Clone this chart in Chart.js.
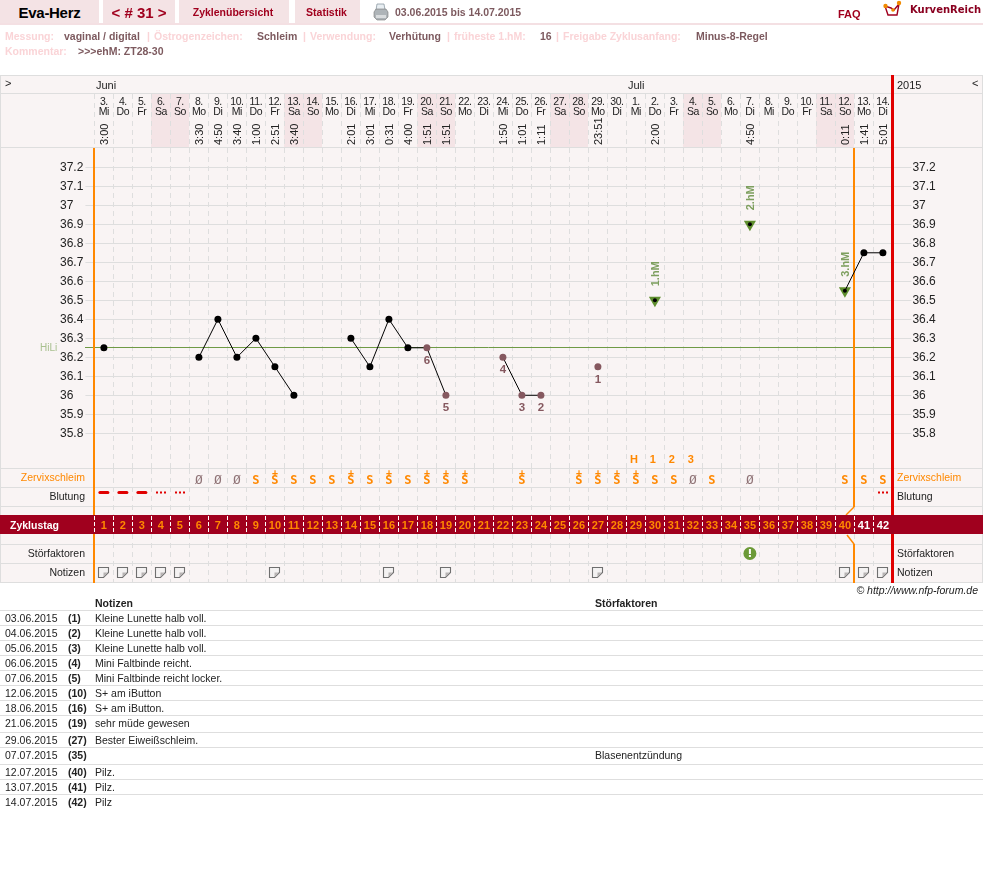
<!DOCTYPE html>
<html lang="de">
<head>
<meta charset="utf-8">
<title>Eva-Herz Zyklus 31</title>
<script src="https://cdn.jsdelivr.net/npm/chart.js@4/dist/chart.umd.min.js"></script>
<style>
  html, body { margin: 0; padding: 0; background: #fff; }
  body { position: relative; width: 983px; height: 882px; overflow: hidden; font-family: "Liberation Sans", Arial, sans-serif; }
  canvas { position: absolute; left: 0; top: 0; }
  .tab { position: absolute; top: 0; height: 23px; background: #f4e3e5; color: #a0001e; font-weight: bold; font-size: 10.5px; line-height: 24px; text-align: center; }
  .abs { position: absolute; white-space: nowrap; }
  .lbl { color: #fad4d7; font-weight: bold; font-size: 10.5px; line-height: 13px; }
  .val { color: #7d5a5f; font-weight: bold; font-size: 10.5px; line-height: 13px; }
  .cell { font-size: 10.5px; line-height: 13px; color: #222; }
  .rowline { position: absolute; left: 0; width: 983px; height: 1px; background: #dedede; }
</style>
</head>
<body>
<canvas id="chart" width="983" height="882"></canvas>

<div class="tab" style="left:0;width:99px;color:#000;font-size:15px;letter-spacing:-.3px;line-height:26px;">Eva-Herz</div>
<div class="tab" style="left:103px;width:72px;font-size:15px;line-height:25px;">&lt; # 31 &gt;</div>
<div class="tab" style="left:179px;width:110px;padding-right:2px;box-sizing:border-box;">Zyklenübersicht</div>
<div class="tab" style="left:295px;width:65px;padding-right:2px;box-sizing:border-box;">Statistik</div>
<div class="abs" style="left:0;top:23px;width:983px;height:2px;background:#f4e0e3;"></div>

<svg class="abs" style="left:373px;top:3px" width="16" height="18" viewBox="0 0 16 18">
  <path d="M4 1h7l1 6H3z" fill="#e8eef2" stroke="#8d9aa3" stroke-width=".8"/>
  <path d="M1 9l2-3h10l2 3v5l-3 3H4l-3-3z" fill="#aeb4b8" stroke="#777" stroke-width=".6"/>
  <path d="M3 12h10v3H3z" fill="#d9dcde"/>
</svg>
<div class="abs val" style="left:395px;top:6px;">03.06.2015 bis 14.07.2015</div>
<div class="abs" style="left:838px;top:8px;font-size:11px;font-weight:bold;color:#a0001e;">FAQ</div>
<svg class="abs" style="left:882px;top:0" width="20" height="18" viewBox="0 0 20 18">
  <path d="M3 6l3 9h9l2-11-5 6-3-2z" fill="none" stroke="#a0001e" stroke-width="1.4"/>
  <circle cx="3.5" cy="6" r="2.2" fill="#f08a00"/><circle cx="17" cy="3" r="2.2" fill="#f08a00"/><circle cx="11" cy="10" r="1.8" fill="#f08a00"/>
</svg>
<div class="abs" style="left:910px;top:4px;font:bold 10px 'DejaVu Sans';color:#8a0020;">KurvenReich</div>

<div class="abs lbl" style="left:5px;top:30px;">Messung:</div>
<div class="abs val" style="left:64px;top:30px;">vaginal / digital</div>
<div class="abs lbl" style="left:147px;top:30px;">|</div>
<div class="abs lbl" style="left:154px;top:30px;">Östrogenzeichen:</div>
<div class="abs val" style="left:257px;top:30px;">Schleim</div>
<div class="abs lbl" style="left:303px;top:30px;">|</div>
<div class="abs lbl" style="left:310px;top:30px;">Verwendung:</div>
<div class="abs val" style="left:389px;top:30px;">Verhütung</div>
<div class="abs lbl" style="left:447px;top:30px;">|</div>
<div class="abs lbl" style="left:454px;top:30px;">früheste 1.hM:</div>
<div class="abs val" style="left:540px;top:30px;">16</div>
<div class="abs lbl" style="left:556px;top:30px;">|</div>
<div class="abs lbl" style="left:563px;top:30px;">Freigabe Zyklusanfang:</div>
<div class="abs val" style="left:696px;top:30px;">Minus-8-Regel</div>
<div class="abs lbl" style="left:5px;top:45px;">Kommentar:</div>
<div class="abs val" style="left:78px;top:45px;">&gt;&gt;&gt;ehM: ZT28-30</div>

<div class="abs" style="right:5px;top:584px;font:italic 10.5px 'Liberation Sans';color:#222;">© http://www.nfp-forum.de</div>
<div id="notes"></div>

<script>
// Calendar of the cycle, one entry per cycle day
const dayNumbers = ['3.','4.','5.','6.','7.','8.','9.','10.','11.','12.','13.','14.','15.','16.','17.','18.','19.','20.','21.','22.','23.','24.','25.','26.','27.','28.','29.','30.','1.','2.','3.','4.','5.','6.','7.','8.','9.','10.','11.','12.','13.','14.'];
const weekdays = ['Mi','Do','Fr','Sa','So','Mo','Di','Mi','Do','Fr','Sa','So','Mo','Di','Mi','Do','Fr','Sa','So','Mo','Di','Mi','Do','Fr','Sa','So','Mo','Di','Mi','Do','Fr','Sa','So','Mo','Di','Mi','Do','Fr','Sa','So','Mo','Di'];
const cycleDays = [1,2,3,4,5,6,7,8,9,10,11,12,13,14,15,16,17,18,19,20,21,22,23,24,25,26,27,28,29,30,31,32,33,34,35,36,37,38,39,40,41,42];
const measureTimes = ['3:00','','','','','3:30','4:50','3:40','1:00','2:51','3:40','','','2:01','3:01','0:31','4:00','1:51','1:51','','','1:50','1:01','1:11','','','23:51','','','2:00','','','','','4:50','','','','','0:11','1:41','5:01'];

// Waking temperature per cycle day
const temps = [36.25,null,null,null,null,36.2,36.4,36.2,36.3,36.15,36,null,null,36.3,36.15,36.4,36.25,36.25,36,null,null,36.2,36,36,null,null,36.15,null,null,36.5,null,null,null,null,36.9,null,null,null,null,36.55,36.75,36.75];
const yTicks = [37.2,37.1,37,36.9,36.8,36.7,36.6,36.5,36.4,36.3,36.2,36.1,36,35.9,35.8];
const coverLine = 36.25;

// Evaluation marks
const lowDays = [27,24,23,22,19,18];
const lowLabels = ['1','2','3','4','5','6'];
const highDays = [30,35,40];
const highLabels = ['1.hM','2.hM','3.hM'];
const peakDays = [29,30,31,32];
const peakLabels = ['H','1','2','3'];

// Observation rows
const mucus = ['','','','','','Ø','Ø','Ø','S','S+','S','S','S','S+','S','S+','S','S+','S+','S+','','','S+','','','S+','S+','S+','S+','S','S','Ø','S','','Ø','','','','','S','S','S'];
const heavyBleedDays = [1,2,3];
const lightBleedDays = [4,5,42];
const disturbanceDays = [35];
const noteDays = [1,2,3,4,5,10,16,19,27,40,41,42];

// Rows of the notes list underneath
const noteDates = ['03.06.2015','04.06.2015','05.06.2015','06.06.2015','07.06.2015','12.06.2015','18.06.2015','21.06.2015','29.06.2015','07.07.2015','12.07.2015','13.07.2015','14.07.2015'];
const noteIds = ['(1)','(2)','(3)','(4)','(5)','(10)','(16)','(19)','(27)','(35)','(40)','(41)','(42)'];
const noteTexts = ['Kleine Lunette halb voll.','Kleine Lunette halb voll.','Kleine Lunette halb voll.','Mini Faltbinde reicht.','Mini Faltbinde reicht locker.','S+ am iButton','S+ am iButton.','sehr müde gewesen','Bester Eiweißschleim.','','Pilz.','Pilz.','Pilz'];
const noteFactors = ['','','','','','','','','','Blasenentzündung','','',''];
const noteRowTops = [610,625,640,655,670,685,700,715,732,747,764,779,794];

const PLOT_BG = '#f9f4f4', WEEKEND = '#f4e4e6', LINE = '#dedede', ORANGE = '#ff8800', RED = '#e00000', BAND = '#a0001e', BROWN = '#85585f', GREEN = '#5f8f2f', TEXT = '#222';
const FONT = '"Liberation Sans", Arial, sans-serif';

// Builds the notes list as ordinary page text
const notesHost = document.getElementById('notes');
function addSpan(x, y, text, extra) {
  const el = document.createElement('div');
  el.className = 'abs cell';
  el.style.left = x + 'px';
  el.style.top = y + 'px';
  if (extra) el.style.fontWeight = extra;
  el.textContent = text;
  notesHost.appendChild(el);
}
function addRule(y) {
  const el = document.createElement('div');
  el.className = 'rowline';
  el.style.top = y + 'px';
  notesHost.appendChild(el);
}
addSpan(95, 597, 'Notizen', 'bold');
addSpan(595, 597, 'Störfaktoren', 'bold');
addRule(610);
noteDates.forEach((d, i) => {
  const top = noteRowTops[i];
  addSpan(5, top + 2, d);
  addSpan(68, top + 2, noteIds[i], 'bold');
  addSpan(95, top + 2, noteTexts[i]);
  addSpan(595, top + 2, noteFactors[i]);
  if (i < noteDates.length - 1) addRule(noteRowTops[i + 1]);
});

function text(ctx, str, x, y, font, color, align) {
  ctx.font = font;
  ctx.fillStyle = color;
  ctx.textAlign = align || 'center';
  ctx.textBaseline = 'alphabetic';
  ctx.fillText(str, x, y);
}
function hLine(ctx, y, x0, x1) {
  ctx.fillStyle = LINE;
  ctx.fillRect(x0, y, x1 - x0, 1);
}
function dashedColumns(ctx, scale, y0, y1, color, dash) {
  ctx.save();
  ctx.strokeStyle = color;
  ctx.lineWidth = 1;
  ctx.setLineDash(dash);
  cycleDays.forEach(d => {
    const px = Math.round(scale.getPixelForValue(d - 0.5)) + 0.5;
    ctx.beginPath(); ctx.moveTo(px, y0); ctx.lineTo(px, y1); ctx.stroke();
  });
  ctx.restore();
}

// Page-level rows and row labels around the temperature plot
const sheetPlugin = {
  id: 'sheet',
  beforeDraw(chart) {
    const { ctx, scales: { x } } = chart;
    ctx.save();
    ctx.fillStyle = PLOT_BG;
    ctx.fillRect(0, 75, 983, 508);
    cycleDays.forEach((d, i) => {
      if (weekdays[i] === 'Sa' || weekdays[i] === 'So') {
        ctx.fillStyle = WEEKEND;
        ctx.fillRect(Math.round(x.getPixelForValue(d - 0.5)), 94, 19, 53);
      }
    });
    ctx.restore();
  },
  beforeDatasetsDraw(chart) {
    const { ctx, scales: { x, y } } = chart;
    ctx.save();

    // column edges through the strips above and below the plot
    dashedColumns(ctx, x, 94, 147, LINE, [5, 4]);
    dashedColumns(ctx, x, 469, 515, LINE, [5, 4]);
    dashedColumns(ctx, x, 534, 582, LINE, [5, 4]);

    // row separators
    [75, 93, 147, 468, 487, 506, 544, 563, 582].forEach(v => hLine(ctx, v, 0, 983));
    ctx.fillStyle = LINE;
    ctx.fillRect(0, 75, 1, 508);
    ctx.fillRect(982, 75, 1, 508);

    // month strip
    text(ctx, '>', 5, 87, '11px ' + FONT, TEXT, 'left');
    text(ctx, 'Juni', 96, 89, '11px ' + FONT, TEXT, 'left');
    text(ctx, 'Juli', 628, 89, '11px ' + FONT, TEXT, 'left');
    text(ctx, '2015', 897, 89, '11px ' + FONT, TEXT, 'left');
    text(ctx, '<', 972, 87, '11px ' + FONT, TEXT, 'left');

    // date strip
    ctx.letterSpacing = '-0.4px';
    cycleDays.forEach((d, i) => {
      const cx = x.getPixelForValue(d);
      text(ctx, dayNumbers[i], cx, 105, '10.5px ' + FONT, TEXT);
      text(ctx, weekdays[i], cx, 115, '10.5px ' + FONT, TEXT);
    });
    ctx.letterSpacing = '0px';
    cycleDays.forEach((d, i) => {
      if (!measureTimes[i]) return;
      ctx.save();
      ctx.translate(x.getPixelForValue(d) + 4, 145);
      ctx.rotate(-Math.PI / 2);
      text(ctx, measureTimes[i], 0, 0, '11px ' + FONT, TEXT, 'left');
      ctx.restore();
    });

    // cover line and its label
    const hy = Math.round(y.getPixelForValue(coverLine)) - 0.5;
    ctx.strokeStyle = '#6f9a45';
    ctx.lineWidth = 1;
    ctx.beginPath(); ctx.moveTo(85, hy); ctx.lineTo(892, hy); ctx.stroke();
    text(ctx, 'HiLi', 40, hy + 3, '10px ' + FONT, '#a9c08f', 'left');

    // peak counting above the mucus row
    peakDays.forEach((d, i) => {
      text(ctx, peakLabels[i], x.getPixelForValue(d) - 2, 463, 'bold 11px ' + FONT, ORANGE);
    });

    // row captions
    text(ctx, 'Zervixschleim', 85, 481, '10.5px ' + FONT, ORANGE, 'right');
    text(ctx, 'Blutung', 85, 500, '10.5px ' + FONT, TEXT, 'right');
    text(ctx, 'Störfaktoren', 85, 557, '10.5px ' + FONT, TEXT, 'right');
    text(ctx, 'Notizen', 85, 576, '10.5px ' + FONT, TEXT, 'right');
    text(ctx, 'Zervixschleim', 897, 481, '10.5px ' + FONT, ORANGE, 'left');
    text(ctx, 'Blutung', 897, 500, '10.5px ' + FONT, TEXT, 'left');
    text(ctx, 'Störfaktoren', 897, 557, '10.5px ' + FONT, TEXT, 'left');
    text(ctx, 'Notizen', 897, 576, '10.5px ' + FONT, TEXT, 'left');

    // mucus symbols
    mucus.forEach((m, i) => {
      if (!m) return;
      const cx = x.getPixelForValue(i + 1);
      if (m === 'Ø') {
        text(ctx, 'Ø', cx, 484, '13px "DejaVu Sans Mono"', '#8f7376');
      } else {
        text(ctx, 'S', cx, 484, 'bold 12px "DejaVu Sans Mono"', ORANGE);
        if (m === 'S+') text(ctx, '+', cx, 475.5, 'bold 10px "DejaVu Sans Mono"', ORANGE);
      }
    });

    // bleeding marks
    ctx.fillStyle = RED;
    heavyBleedDays.forEach(d => {
      const cx = x.getPixelForValue(d);
      ctx.beginPath();
      ctx.roundRect(cx - 5.5, 491, 11, 3, 1.5);
      ctx.fill();
    });
    lightBleedDays.forEach(d => {
      const cx = Math.round(x.getPixelForValue(d));
      [-5, -1, 3].forEach(o => ctx.fillRect(cx + o, 491.5, 2, 2));
    });

    // disturbance marker
    disturbanceDays.forEach(d => {
      const cx = x.getPixelForValue(d);
      ctx.fillStyle = '#6c9a38';
      ctx.beginPath(); ctx.arc(cx, 553.5, 6.5, 0, Math.PI * 2); ctx.fill();
      ctx.fillStyle = '#fff';
      ctx.fillRect(cx - 1, 549, 2, 5);
      ctx.fillRect(cx - 1, 555, 2, 2);
    });

    // note icons with a folded lower corner
    noteDays.forEach(d => {
      const l = Math.round(x.getPixelForValue(d)) - 6, t = 567;
      ctx.fillStyle = '#f4f2f2';
      ctx.strokeStyle = '#6f6f6f';
      ctx.lineWidth = 1.1;
      ctx.beginPath();
      ctx.moveTo(l + 0.5, t + 0.5);
      ctx.lineTo(l + 10.5, t + 0.5);
      ctx.lineTo(l + 10.5, t + 5.5);
      ctx.lineTo(l + 5.5, t + 10.5);
      ctx.lineTo(l + 0.5, t + 10.5);
      ctx.closePath();
      ctx.fill(); ctx.stroke();
      ctx.fillStyle = '#b8b4b4';
      ctx.beginPath();
      ctx.moveTo(l + 10, t + 5.5); ctx.lineTo(l + 5.5, t + 5.5); ctx.lineTo(l + 5.5, t + 10);
      ctx.closePath(); ctx.fill();
    });

    // left and post-ovulation orange boundaries
    ctx.fillStyle = ORANGE;
    ctx.fillRect(93, 148, 2, 435);
    const ox = Math.round(x.getPixelForValue(40.5));
    ctx.fillRect(ox - 1, 148, 2, 359);
    ctx.fillRect(ox - 1, 544, 2, 39);
    ctx.strokeStyle = ORANGE;
    ctx.lineWidth = 1.5;
    ctx.beginPath(); ctx.moveTo(ox, 507); ctx.lineTo(ox - 8, 515); ctx.stroke();
    ctx.beginPath(); ctx.moveTo(ox - 7, 535); ctx.lineTo(ox, 544); ctx.stroke();

    // end-of-cycle red boundary
    ctx.fillStyle = RED;
    ctx.fillRect(891, 75, 3, 508);

    // cycle-day band crosses everything
    ctx.fillStyle = BAND;
    ctx.fillRect(0, 515, 983, 19);
    text(ctx, 'Zyklustag', 10, 529, 'bold 10.5px ' + FONT, '#fff', 'left');
    dashedColumns(ctx, x, 516, 534, '#fff', [4, 2]);
    cycleDays.forEach(d => {
      text(ctx, String(d), x.getPixelForValue(d), 529, 'bold 11px ' + FONT, d > 40 ? '#fff' : ORANGE);
    });
    ctx.restore();
  },
  afterDatasetsDraw(chart) {
    const { ctx, scales: { x, y } } = chart;
    ctx.save();
    lowDays.forEach((d, i) => {
      text(ctx, lowLabels[i], x.getPixelForValue(d), y.getPixelForValue(temps[d - 1]) + 16, 'bold 11.5px ' + FONT, BROWN);
    });
    highDays.forEach((d, i) => {
      ctx.save();
      ctx.translate(x.getPixelForValue(d) + 4, y.getPixelForValue(temps[d - 1]) - 14);
      ctx.rotate(-Math.PI / 2);
      text(ctx, highLabels[i], 0, 0, 'bold 11px ' + FONT, '#7d9f5e', 'left');
      ctx.restore();
    });
    ctx.restore();
  }
};

new Chart(document.getElementById('chart'), {
  type: 'line',
  plugins: [sheetPlugin],
  data: {
    datasets: [
      {
        label: 'Temperatur',
        data: temps.map((t, i) => ({ x: cycleDays[i], y: t })),
        borderColor: '#000',
        borderWidth: 1,
        spanGaps: false,
        tension: 0,
        pointRadius: c => highDays.includes(c.dataIndex + 1) ? 2 : 3.5,
        pointBorderWidth: 0,
        pointBackgroundColor: c => lowDays.includes(c.dataIndex + 1) ? BROWN : '#000'
      },
      {
        label: 'Höhere Messungen',
        data: highDays.map(d => ({ x: d, y: temps[d - 1] })),
        showLine: false,
        pointStyle: 'triangle',
        rotation: 180,
        pointRadius: 7,
        pointBorderWidth: 0,
        pointBackgroundColor: GREEN
      }
    ]
  },
  options: {
    responsive: false,
    animation: false,
    devicePixelRatio: 1,
    events: [],
    layout: { padding: { left: 60, right: 0, top: 148, bottom: 413 } },
    plugins: { legend: { display: false }, tooltip: { enabled: false }, title: { display: false } },
    scales: {
      x: {
        type: 'linear',
        min: 0.5,
        max: 42.5,
        afterFit: s => { s.height = 0; },
        afterBuildTicks: s => { s.ticks = cycleDays.map(d => ({ value: d - 0.5 })); },
        ticks: { display: false, autoSkip: false },
        border: { display: false, dash: [5, 4] },
        grid: { color: LINE, lineWidth: 1, drawTicks: false }
      },
      y: {
        position: 'left',
        min: 35.612,
        max: 37.3015,
        afterFit: s => { s.width = 34.4; },
        afterBuildTicks: s => { s.ticks = yTicks.map(v => ({ value: v })); },
        ticks: { autoSkip: false, crossAlign: 'far', color: TEXT, font: { family: FONT, size: 12 }, callback: v => String(v) },
        border: { display: false },
        grid: { color: LINE, lineWidth: 1, tickLength: 9 }
      },
      yRight: {
        position: 'right',
        min: 35.612,
        max: 37.3015,
        afterFit: s => { s.width = 90.6; },
        afterBuildTicks: s => { s.ticks = yTicks.map(v => ({ value: v })); },
        ticks: { autoSkip: false, padding: 1, crossAlign: 'near', color: TEXT, font: { family: FONT, size: 12 }, callback: v => String(v) },
        border: { display: false },
        grid: { color: LINE, lineWidth: 1, tickLength: 19, drawOnChartArea: false }
      }
    }
  }
});
</script>
</body>
</html>
